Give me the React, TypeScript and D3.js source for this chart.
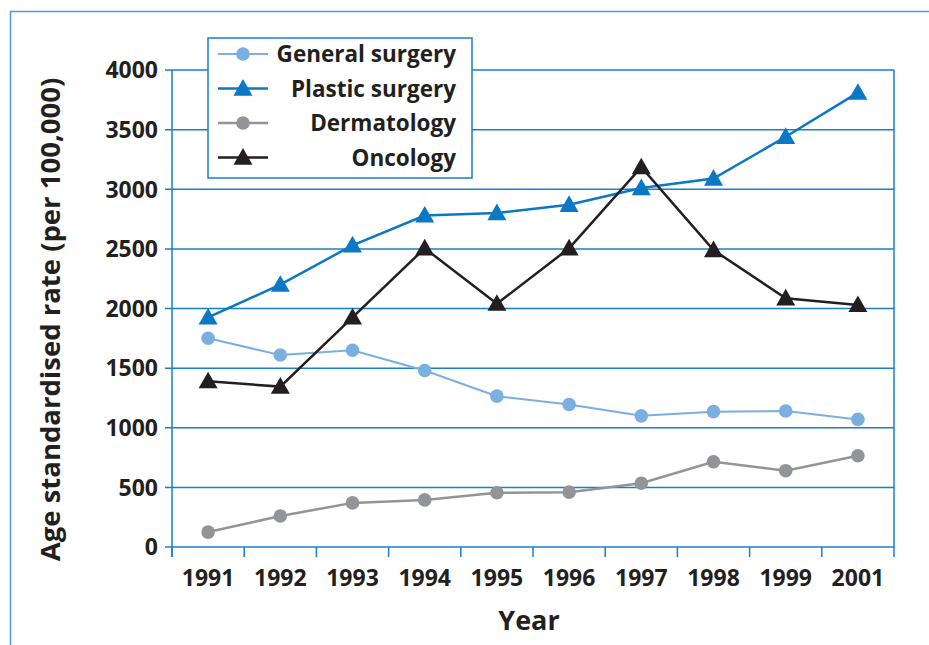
import React from "react";
import * as d3 from "d3";

const years = ["1991", "1992", "1993", "1994", "1995", "1996", "1997", "1998", "1999", "2001"];
const generalSurgery = [1750, 1610, 1650, 1480, 1265, 1195, 1100, 1135, 1140, 1070];
const plasticSurgery = [1925, 2200, 2530, 2780, 2800, 2870, 3010, 3090, 3440, 3810];
const dermatology = [125, 260, 370, 395, 455, 460, 535, 715, 640, 765];
const oncology = [1390, 1345, 1925, 2505, 2040, 2505, 3185, 2490, 2085, 2030];
const yTicks = [0, 500, 1000, 1500, 2000, 2500, 3000, 3500, 4000];

const series = [
  { name: "General surgery", values: generalSurgery, color: "#7aafe0", marker: "circle", width: 2 },
  { name: "Plastic surgery", values: plasticSurgery, color: "#0a78c4", marker: "triangle", width: 2.5 },
  { name: "Dermatology", values: dermatology, color: "#929497", marker: "circle", width: 2.5 },
  { name: "Oncology", values: oncology, color: "#231f20", marker: "triangle", width: 2.5 },
];

const W = 929;
const H = 645;
const margin = { top: 70, right: 35, bottom: 98, left: 172 };
const axisColor = "#1a7fc9";
const font = "'Open Sans', sans-serif";
const textColor = "#231f20";

const Marker = ({ type, x, y, color }: { type: string; x: number; y: number; color: string }) => {
  if (type === "circle") return <circle cx={x} cy={y} r={6.8} fill={color} />;
  const s = 9.5;
  return <path d={`M${x},${y - s}L${x + s},${y + s * 0.75}L${x - s},${y + s * 0.75}Z`} fill={color} />;
};

export default function App() {
  const x = d3
    .scaleBand()
    .domain(years)
    .range([margin.left, W - margin.right]);
  const y = d3
    .scaleLinear()
    .domain([0, 4000])
    .range([H - margin.bottom, margin.top]);
  const cx = (d: string) => (x(d) ?? 0) + x.bandwidth() / 2;
  const line = d3
    .line<number>()
    .x((_, i) => cx(years[i]))
    .y((v) => y(v));

  const left = margin.left;
  const right = W - margin.right;
  const bottom = H - margin.bottom;
  const top = margin.top;

  // legend layout
  const lg = { x: 208, y: 38, w: 264, h: 140 };
  const rowY = (i: number) => lg.y + 16 + i * 34.5;

  return (
    <svg width={W} height={H} style={{ position: "absolute", left: 0, top: 0 }}>
      <rect width={W} height={H} fill="#fff" />
      {/* outer frame */}
      <line x1={10} x2={W} y1={11.5} y2={11.5} stroke="#4a98d6" strokeWidth={1.5} />
      <line x1={10.5} x2={10.5} y1={11} y2={H} stroke="#4a98d6" strokeWidth={1.5} />

      {/* gridlines + y ticks */}
      {yTicks.map((t) => (
        <g key={t}>
          <line x1={left - 7} x2={right} y1={y(t)} y2={y(t)} stroke={axisColor} strokeWidth={1.5} />
          <text
            x={left - 14}
            y={y(t)}
            dy="0.36em"
            textAnchor="end"
            fontFamily={font}
            fontWeight={700}
            fontSize={23}
            fill={textColor}
          >
            {t}
          </text>
        </g>
      ))}
      <line x1={left} x2={left} y1={top} y2={bottom + 10} stroke={axisColor} strokeWidth={1.5} />
      <line x1={right} x2={right} y1={top} y2={bottom + 10} stroke={axisColor} strokeWidth={1.5} />
      {years.map((d) => (
        <g key={d}>
          <line x1={x(d)} x2={x(d)} y1={bottom} y2={bottom + 10} stroke={axisColor} strokeWidth={1.5} />
          <text
            x={cx(d)}
            y={bottom + 31}
            dy="0.36em"
            textAnchor="middle"
            fontFamily={font}
            fontWeight={700}
            fontSize={23}
            fill={textColor}
          >
            {d}
          </text>
        </g>
      ))}

      {/* axis titles */}
      <text
        x={529}
        y={620}
        dy="0.36em"
        textAnchor="middle"
        fontFamily={font}
        fontWeight={700}
        fontSize={27}
        fill={textColor}
      >
        Year
      </text>
      <text
        transform={`translate(50,${(top + bottom) / 2 + 11}) rotate(-90)`}
        dy="0.36em"
        textAnchor="middle"
        fontFamily={font}
        fontWeight={700}
        fontSize={27.5}
        fill={textColor}
      >
        Age standardised rate (per 100,000)
      </text>

      {/* series */}
      {series.map((s) => (
        <g key={s.name}>
          <path d={line(s.values) ?? ""} fill="none" stroke={s.color} strokeWidth={s.width} />
          {s.values.map((v, i) => (
            <Marker key={i} type={s.marker} x={cx(years[i])} y={y(v)} color={s.color} />
          ))}
        </g>
      ))}

      {/* legend */}
      <rect x={lg.x} y={lg.y} width={lg.w} height={lg.h} fill="#fff" stroke={axisColor} strokeWidth={1.5} />
      {series.map((s, i) => (
        <g key={s.name}>
          <line x1={218} x2={268} y1={rowY(i)} y2={rowY(i)} stroke={s.color} strokeWidth={s.width} />
          <Marker type={s.marker} x={243} y={rowY(i)} color={s.color} />
          <text
            x={456}
            y={rowY(i)}
            dy="0.36em"
            textAnchor="end"
            fontFamily={font}
            fontWeight={700}
            fontSize={22.5}
            fill={textColor}
          >
            {s.name}
          </text>
        </g>
      ))}
    </svg>
  );
}
